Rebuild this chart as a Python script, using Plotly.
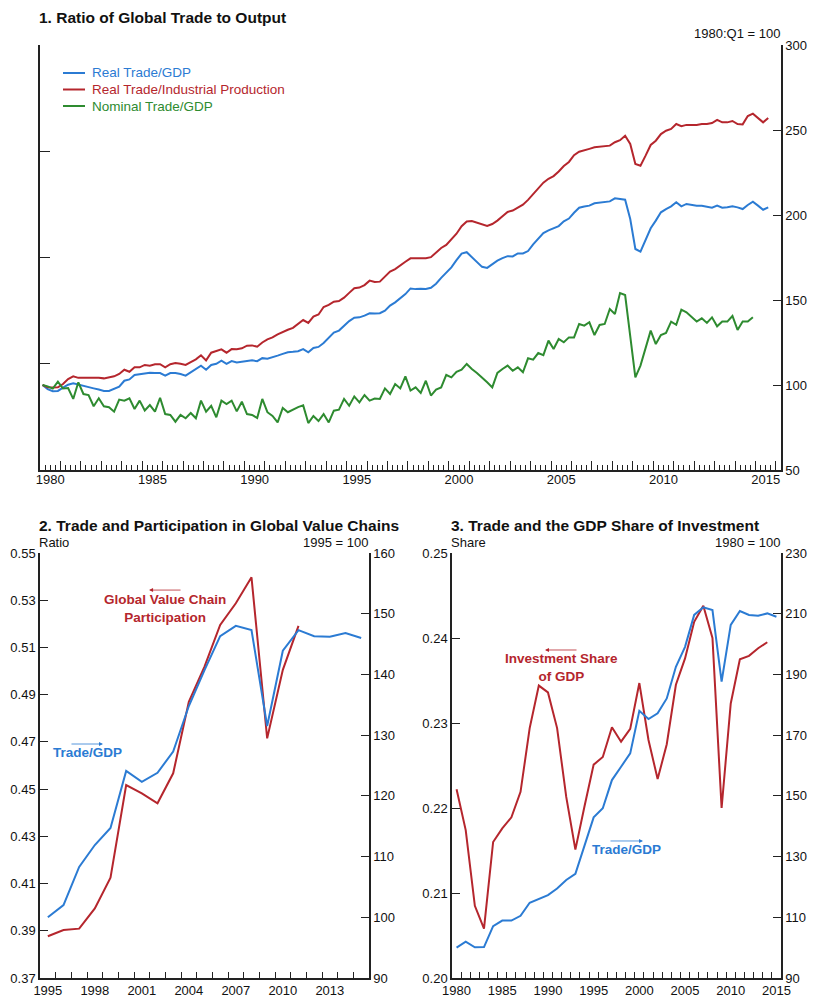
import plotly.graph_objects as go

W, H = 820, 1006

# ---------------- Panel 1: quarterly, 1980:Q1 = 100 ----------------
start_year = 1980
real_trade_gdp = [
    100.0, 97.5, 96.3, 96.5, 98.4, 100.2, 101.0, 100.2, 99.2, 98.6, 98.0, 97.3,
    96.5, 96.5, 97.6, 99.0, 102.5, 103.3, 105.9, 106.3, 107.0, 107.2, 107.0, 107.0,
    105.5, 107.0, 107.0, 106.5, 105.5, 107.5, 109.5, 111.4, 109.0, 111.8, 112.5, 114.3,
    112.4, 114.1, 113.3, 113.8, 114.4, 114.5, 114.0, 115.8, 115.5, 116.6, 117.3, 118.3,
    119.2, 119.5, 119.9, 121.1, 119.2, 121.8, 122.4, 124.7, 127.5, 130.8, 132.0, 134.9,
    137.6, 139.6, 139.8, 140.8, 142.2, 142.0, 142.2, 143.7, 146.7, 148.6, 151.0, 153.5,
    156.8, 156.4, 156.6, 156.5, 157.2, 159.6, 163.0, 165.8, 169.2, 173.4, 177.3, 178.1,
    175.3, 171.9, 169.5, 168.9, 171.0, 173.1, 174.6, 175.8, 175.6, 177.4, 177.4, 178.8,
    182.7, 186.2, 189.4, 191.0, 192.1, 193.5, 196.3, 197.9, 201.3, 204.3, 205.0, 205.5,
    206.9, 207.3, 207.4, 208.0, 209.8, 209.4, 209.0, 197.6, 180.0, 178.4, 184.9, 192.2,
    196.7, 201.6, 203.5, 205.1, 207.5, 205.1, 206.5, 205.9, 205.5, 205.5, 205.1, 204.3,
    205.5, 204.3, 204.5, 205.1, 204.5, 203.5, 205.9, 207.8, 205.5, 203.1, 204.5,
]
real_trade_ip = [
    100.0, 98.6, 98.5, 98.6, 100.6, 103.5, 105.1, 104.2, 104.2, 104.2, 104.5, 104.2,
    103.9, 104.3, 105.1, 106.5, 109.0, 107.8, 110.4, 110.4, 111.8, 111.4, 112.2, 112.2,
    110.4, 112.2, 112.9, 112.5, 111.8, 113.5, 115.1, 117.5, 114.5, 119.0, 120.0, 121.0,
    119.0, 121.1, 121.0, 121.6, 123.1, 123.3, 122.5, 125.0, 126.8, 128.0, 129.8, 131.3,
    132.5, 133.6, 135.7, 138.2, 136.5, 140.2, 141.5, 145.9, 147.1, 149.0, 149.4, 151.4,
    154.2, 156.9, 157.3, 158.8, 161.4, 160.6, 160.8, 163.9, 166.7, 168.2, 170.6, 172.5,
    174.5, 174.5, 174.8, 174.6, 175.2, 178.2, 180.6, 182.4, 185.9, 189.0, 193.4, 196.2,
    196.4, 195.4, 194.3, 193.6, 194.7, 196.7, 199.3, 201.8, 202.6, 204.2, 206.1, 208.9,
    212.3, 216.0, 219.0, 221.3, 222.9, 225.6, 228.8, 231.2, 235.2, 237.2, 237.9, 238.9,
    239.8, 240.1, 240.4, 240.8, 242.8, 244.0, 246.6, 241.8, 230.0, 229.0, 234.9, 241.2,
    243.7, 247.6, 249.6, 250.6, 253.5, 252.2, 253.0, 253.0, 253.0, 253.5, 253.5, 254.1,
    256.0, 254.5, 254.5, 255.3, 253.5, 253.3, 258.2, 259.6, 257.0, 254.5, 257.0,
]
nominal_trade_gdp = [
    100.0, 99.2, 97.9, 102.0, 97.9, 98.2, 91.8, 101.6, 94.7, 94.1, 87.5, 92.2,
    87.5, 86.9, 84.3, 91.4, 90.8, 92.2, 85.9, 90.8, 85.0, 88.2, 84.3, 92.5,
    82.9, 82.4, 78.4, 82.4, 80.4, 83.5, 80.4, 90.8, 84.3, 87.8, 81.0, 90.8,
    88.8, 90.8, 84.5, 90.2, 82.9, 82.4, 80.6, 91.8, 84.0, 81.8, 78.0, 86.5,
    84.0, 85.5, 87.0, 88.0, 77.6, 81.8, 78.8, 82.9, 78.0, 84.9, 85.5, 91.8,
    87.8, 93.3, 89.8, 94.1, 90.8, 92.0, 91.8, 98.0, 94.7, 100.6, 98.0, 105.1,
    96.7, 98.6, 95.3, 102.5, 93.8, 97.3, 98.6, 105.9, 104.5, 107.8, 109.0, 112.4,
    109.4, 107.1, 104.5, 101.6, 98.6, 107.1, 109.4, 111.4, 108.4, 110.4, 107.5, 115.7,
    114.9, 118.8, 117.6, 126.1, 121.2, 127.1, 125.1, 128.0, 128.0, 135.9, 134.9, 136.9,
    129.4, 135.3, 135.9, 144.7, 141.8, 154.1, 152.9, 128.0, 104.5, 111.4, 121.2, 132.0,
    124.1, 129.4, 130.6, 137.3, 135.4, 144.3, 142.8, 139.8, 137.3, 139.2, 136.5, 139.8,
    134.5, 137.3, 137.3, 140.6, 132.4, 137.3, 137.3, 139.8,
]
p1_series_names = ["Real Trade/GDP", "Real Trade/Industrial Production", "Nominal Trade/GDP"]
p1_label_years = [1980, 1985, 1990, 1995, 2000, 2005, 2010, 2015]
p1_right_ticks = [50, 100, 150, 200, 250, 300]

# ---------------- Panel 2: annual ----------------
gvc_years = list(range(1995, 2012))
gvc_participation = [0.3877, 0.3903, 0.3909, 0.3995, 0.4125, 0.4517, 0.4482, 0.4440,
                     0.4567, 0.4870, 0.5019, 0.5195, 0.5287, 0.5397, 0.4715, 0.5005, 0.5191]
p2_trade_years = list(range(1995, 2016))
p2_trade_gdp = [100.0, 102.0, 108.3, 111.9, 114.7, 124.1, 122.3, 123.8, 127.3, 134.8, 140.7,
                146.3, 148.0, 147.3, 131.5, 143.9, 147.3, 146.3, 146.2, 146.8, 146.0]
p2_label_years = [1995, 1998, 2001, 2004, 2007, 2010, 2013]
p2_left_ticks = [0.37, 0.39, 0.41, 0.43, 0.45, 0.47, 0.49, 0.51, 0.53, 0.55]
p2_right_ticks = [90, 100, 110, 120, 130, 140, 150, 160]

# ---------------- Panel 3: annual ----------------
invest_years = list(range(1980, 2015))
investment_share = [0.2222, 0.2174, 0.2085, 0.2058, 0.2160, 0.2176, 0.2189, 0.2219, 0.2294,
                    0.2344, 0.2336, 0.2294, 0.2213, 0.2151, 0.2202, 0.2251, 0.2260, 0.2295,
                    0.2278, 0.2293, 0.2347, 0.2280, 0.2234, 0.2275, 0.2345, 0.2376, 0.2419,
                    0.2438, 0.2400, 0.2200, 0.2323, 0.2375, 0.2379, 0.2388, 0.2395]
p3_trade_years = list(range(1980, 2016))
p3_trade_gdp = [100.0, 102.0, 100.1, 100.2, 107.1, 108.9, 108.9, 110.5, 114.8, 116.0, 117.3,
                119.5, 122.3, 124.3, 133.5, 142.9, 145.9, 155.2, 159.6, 164.0, 178.0, 175.3,
                177.2, 182.1, 192.5, 199.1, 209.6, 212.1, 211.2, 187.6, 206.3, 210.9, 209.6,
                209.3, 210.1, 209.0]
p3_label_years = [1980, 1985, 1990, 1995, 2000, 2005, 2010, 2015]
p3_left_ticks = [0.20, 0.21, 0.22, 0.23, 0.24, 0.25]
p3_right_ticks = [90, 110, 130, 150, 170, 190, 210, 230]

# ---------------- styling ----------------
BLUE = "#2b7bd3"
RED = "#b5262d"
GREEN = "#2e8b30"
AX = "#222222"
FONT = "Liberation Sans, Arial, sans-serif"


def qx(n):
    return [start_year + (i + 0.5) / 4 for i in range(n)]


def px(X):
    return X / W


def py(Y):
    return 1 - Y / H


fig = go.Figure()

p1_series = [real_trade_gdp, real_trade_ip, nominal_trade_gdp]
p1_colors = [BLUE, RED, GREEN]
for vals, col, nm in zip(p1_series, p1_colors, p1_series_names):
    fig.add_trace(go.Scatter(x=qx(len(vals)), y=vals, mode="lines",
                             line=dict(color=col, width=2), name=nm, showlegend=False,
                             xaxis="x", yaxis="y"))
# helper (empty) traces so overlay axes render
fig.add_trace(go.Scatter(x=[None], y=[None], xaxis="x5", yaxis="y", showlegend=False, hoverinfo="skip"))
fig.add_trace(go.Scatter(x=[None], y=[None], xaxis="x", yaxis="y2", showlegend=False, hoverinfo="skip"))

fig.add_trace(go.Scatter(x=gvc_years, y=gvc_participation, mode="lines",
                         line=dict(color=RED, width=2), showlegend=False,
                         xaxis="x3", yaxis="y3"))
fig.add_trace(go.Scatter(x=p2_trade_years, y=p2_trade_gdp, mode="lines",
                         line=dict(color=BLUE, width=2), showlegend=False,
                         xaxis="x3", yaxis="y4"))

fig.add_trace(go.Scatter(x=invest_years, y=investment_share, mode="lines",
                         line=dict(color=RED, width=2), showlegend=False,
                         xaxis="x4", yaxis="y5"))
fig.add_trace(go.Scatter(x=p3_trade_years, y=p3_trade_gdp, mode="lines",
                         line=dict(color=BLUE, width=2), showlegend=False,
                         xaxis="x4", yaxis="y6"))

common = dict(showgrid=False, zeroline=False, linecolor=AX, linewidth=1.5, automargin=False,
              tickcolor=AX, tickwidth=1.2, tickfont=dict(size=13, color="#111", family=FONT))

p1_dom_x = [px(40), px(781)]
p1_dom_y = [py(470), py(45)]
p1_range = [1980, 2016.25]
year_bounds = list(range(1980, 2017))
quarter_ticks = [y + q / 4 for y in range(1980, 2017) for q in (1, 2, 3) if y + q / 4 < p1_range[1]]

layout = dict(
    template="none",
    width=W, height=H, margin=dict(l=0, r=0, t=0, b=0, pad=0, autoexpand=False),
    paper_bgcolor="white", plot_bgcolor="white",
    font=dict(family=FONT, size=13, color="#111"),
    showlegend=False,
    xaxis=dict(domain=p1_dom_x, range=p1_range, anchor="y", showline=True,
               tickmode="array", tickvals=year_bounds, ticks="inside", ticklen=9,
               showticklabels=False,
               minor=dict(tickmode="array", tickvals=quarter_ticks, ticks="inside",
                          ticklen=5, tickcolor=AX, tickwidth=1),
               **common),
    xaxis5=dict(overlaying="x", range=p1_range, anchor="y", side="bottom",
                tickmode="array", tickvals=[y + 0.5 for y in p1_label_years],
                ticktext=[str(y) for y in p1_label_years], ticks="", showline=False,
                showgrid=False, zeroline=False, automargin=False,
                tickfont=dict(size=13, color="#111", family=FONT)),
    yaxis=dict(domain=p1_dom_y, range=[50, 300], anchor="x", side="right", showline=True,
               tickmode="array", tickvals=p1_right_ticks, ticks="inside", ticklen=8, **common),
    yaxis2=dict(overlaying="y", range=[0, 4], anchor="x", side="left", showline=True,
                tickmode="array", tickvals=[0, 1, 2, 3, 4], ticks="inside", ticklen=10,
                showticklabels=False, **common),

    xaxis3=dict(domain=[px(40), px(369)], range=[1994.5, 2015.5], anchor="y3", showline=True,
                tickmode="array", tickvals=p2_label_years, ticktext=[str(y) for y in p2_label_years],
                ticks="",
                minor=dict(tickmode="array", tickvals=[y + 0.5 for y in range(1995, 2015)],
                           ticks="inside", ticklen=6, tickcolor=AX, tickwidth=1),
                **common),
    yaxis3=dict(domain=[py(978), py(553)], range=[0.37, 0.55], anchor="x3", side="left",
                showline=True, tickmode="array", tickvals=p2_left_ticks, tickformat=".2f",
                ticks="inside", ticklen=8, **common),
    yaxis4=dict(overlaying="y3", range=[90, 160], anchor="x3", side="right", showline=True,
                tickmode="array", tickvals=p2_right_ticks, ticks="inside", ticklen=8, **common),

    xaxis4=dict(domain=[px(452), px(781)], range=[1979.5, 2015.5], anchor="y5", showline=True,
                tickmode="array", tickvals=p3_label_years, ticktext=[str(y) for y in p3_label_years],
                ticks="",
                minor=dict(tickmode="array", tickvals=[y + 0.5 for y in range(1980, 2015)],
                           ticks="inside", ticklen=6, tickcolor=AX, tickwidth=1),
                **common),
    yaxis5=dict(domain=[py(978), py(553)], range=[0.20, 0.25], anchor="x4", side="left",
                showline=True, tickmode="array", tickvals=p3_left_ticks, tickformat=".2f",
                ticks="inside", ticklen=8, **common),
    yaxis6=dict(overlaying="y5", range=[90, 230], anchor="x4", side="right", showline=True,
                tickmode="array", tickvals=p3_right_ticks, ticks="inside", ticklen=8, **common),
)
fig.update_layout(**layout)


def txt(text, X, Y, anchor="left", size=13, bold=False, color="#111"):
    if bold:
        text = f"<b>{text}</b>"
    fig.add_annotation(text=text, x=px(X), y=py(Y), xref="paper", yref="paper",
                       xanchor=anchor, yanchor="middle", showarrow=False,
                       font=dict(size=size, color=color, family=FONT))


txt("1. Ratio of Global Trade to Output", 37, 17, bold=True, size=15.5)
txt("1980:Q1 = 100", 782, 34, anchor="right")
txt("2. Trade and Participation in Global Value Chains", 37, 525, bold=True, size=15.5)
txt("Ratio", 37, 542)
txt("1995 = 100", 370, 542, anchor="right")
txt("3. Trade and the GDP Share of Investment", 449, 525, bold=True, size=15.5)
txt("Share", 449, 542)
txt("1980 = 100", 782, 542, anchor="right")

# legend (panel 1): key lines + coloured labels
for k, (nm, col) in enumerate(zip(p1_series_names, p1_colors)):
    Yk = 73 + k * 16.5
    fig.add_shape(type="line", xref="paper", yref="paper",
                  x0=px(63), x1=px(85), y0=py(Yk), y1=py(Yk),
                  line=dict(color=col, width=2))
    txt(nm, 90, Yk, size=13.5, color=col)


def label(text, x, y, xref, yref, color):
    fig.add_annotation(text=f"<b>{text}</b>", x=x, y=y, xref=xref, yref=yref,
                       showarrow=False, align="center", xanchor="center", yanchor="middle",
                       font=dict(size=13.5, color=color, family=FONT))


def arrow(x, y, xref, yref, ax, color):
    fig.add_annotation(text="", x=x, y=y, xref=xref, yref=yref, ax=ax, ay=0,
                       showarrow=True, arrowhead=2, arrowsize=1, arrowwidth=0.8,
                       arrowcolor=color)


label("Global Value Chain<br>Participation", 2002.48, 0.5267, "x3", "y3", RED)
arrow(2001.46, 0.5343, "x3", "y3", 33, RED)
label("Trade/GDP", 1997.5, 0.4653, "x3", "y3", BLUE)
arrow(1998.52, 0.4691, "x3", "y3", -33, BLUE)

label("Investment Share<br>of GDP", 1991.43, 0.23653, "x4", "y5", RED)
arrow(1989.68, 0.23859, "x4", "y5", 33, RED)
label("Trade/GDP", 1998.54, 0.21506, "x4", "y5", BLUE)
arrow(2000.40, 0.21612, "x4", "y5", -34, BLUE)

fig.write_html("out.html", config={"displayModeBar": False},
               post_script="document.body.style.margin='0px';")
